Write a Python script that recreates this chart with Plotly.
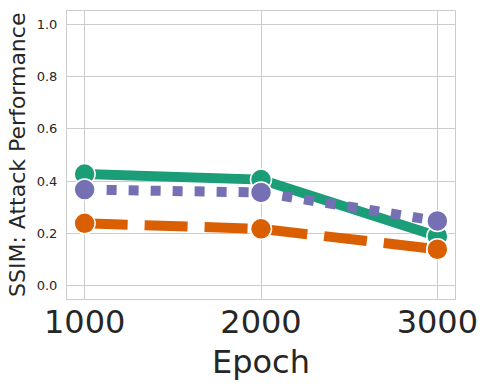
import plotly.graph_objects as go

# Data
epochs = [1000, 2000, 3000]
series_names = ["A", "B", "C"]
green_vals = [0.427, 0.406, 0.190]
orange_vals = [0.239, 0.218, 0.140]
purple_vals = [0.368, 0.357, 0.248]

colors = ["#1b9e77", "#d95f02", "#7570b3"]
dashes = ["solid", "43px,17px", "10px,12px"]


def main():
    fig = go.Figure()
    for name, vals, col, dash in zip(series_names,
                                     [green_vals, orange_vals, purple_vals],
                                     colors, dashes):
        fig.add_trace(go.Scatter(
            x=epochs, y=vals, name=name,
            mode="lines+markers",
            line=dict(color=col, width=10, dash=dash),
            marker=dict(size=21, color=col, line=dict(color="white", width=1.5)),
            showlegend=False,
        ))

    fig.update_layout(
        width=489, height=390,
        margin=dict(l=67, r=34, t=11, b=91),
        paper_bgcolor="white", plot_bgcolor="white",
        font=dict(family="DejaVu Sans", color="#262626"),
    )
    fig.update_xaxes(
        range=[900, 3100], tickvals=epochs, ticktext=[str(e) for e in epochs],
        tickfont=dict(size=32), ticklabelstandoff=-5,
        showgrid=True, gridcolor="#cccccc", gridwidth=1,
        showline=True, linecolor="#cccccc", linewidth=1, mirror=True,
        zeroline=False, ticks="", automargin=False,
    )
    fig.update_yaxes(
        range=[-0.05, 1.05], tickvals=[0, 0.2, 0.4, 0.6, 0.8, 1.0],
        tickformat=".1f", tickfont=dict(size=13), ticklabelstandoff=6,
        showgrid=True, gridcolor="#cccccc", gridwidth=1,
        showline=True, linecolor="#cccccc", linewidth=1, mirror=True,
        zeroline=False, ticks="", automargin=False,
    )

    # axis titles
    fig.add_annotation(text="Epoch", xref="paper", yref="paper", x=0.5, y=0,
                       yanchor="middle", yshift=-63, showarrow=False,
                       font=dict(size=32))
    fig.add_annotation(text="SSIM: Attack Performance", xref="paper", yref="paper",
                       x=0, y=0.5, xanchor="center", xshift=-50, textangle=-90,
                       showarrow=False, font=dict(size=22))

    fig.write_html("out.html", config={"displayModeBar": False},
                   post_script="document.body.style.margin='0';")


main()
